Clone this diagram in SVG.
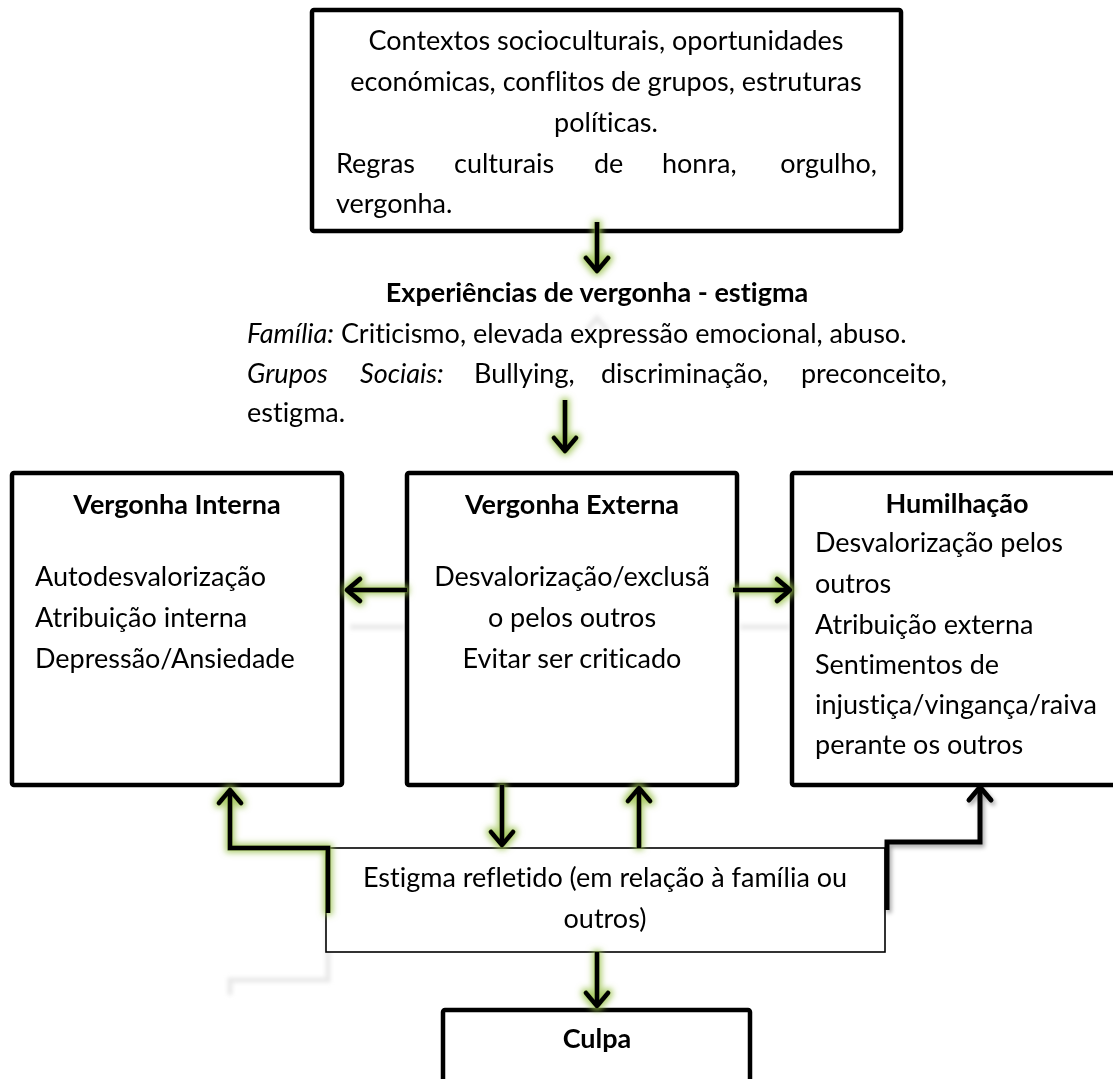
<svg xmlns="http://www.w3.org/2000/svg" width="1113" height="1079" viewBox="0 0 1113 1079">
<style>
.box{fill:#fff;stroke:#000;stroke-width:4.5;stroke-linejoin:round}
.thin{fill:#fff;stroke:#000;stroke-width:1.6}
.t{font-family:Lato,"Open Sans",sans-serif;font-size:27px;fill:#000;font-variant-ligatures:none}
.b{font-weight:bold}
.i{font-style:italic}
.m{text-anchor:middle}
.e{text-anchor:end}
.conn path{fill:none;stroke:#000;stroke-width:5;stroke-linejoin:miter}
.refl{fill:none;stroke:#d6d6d6;stroke-width:5;opacity:0.55}
</style>
<defs>
<marker id="ah" markerUnits="userSpaceOnUse" viewBox="-20 -16 24 32" markerWidth="24" markerHeight="32" refX="0" refY="0" orient="auto">
<path d="M-13,-11 L0,0 L-13,11" fill="none" stroke="#000" stroke-width="5" stroke-linejoin="round" stroke-linecap="round"/>
</marker>
<filter id="glow" filterUnits="userSpaceOnUse" x="0" y="0" width="1113" height="1079">
<feMorphology in="SourceAlpha" operator="dilate" radius="2" result="d"/>
<feGaussianBlur in="d" stdDeviation="3" result="bl"/>
<feFlood flood-color="#9cc34f" flood-opacity="0.85"/>
<feComposite in2="bl" operator="in" result="g"/>
<feMerge><feMergeNode in="g"/><feMergeNode in="SourceGraphic"/></feMerge>
</filter>
<filter id="shadow" filterUnits="userSpaceOnUse" x="0" y="0" width="1113" height="1079">
<feGaussianBlur in="SourceAlpha" stdDeviation="2" result="bl"/>
<feOffset in="bl" dx="2" dy="3" result="o"/>
<feFlood flood-color="#000" flood-opacity="0.35"/>
<feComposite in2="o" operator="in" result="s"/>
<feMerge><feMergeNode in="s"/><feMergeNode in="SourceGraphic"/></feMerge>
</filter>
<filter id="soft" filterUnits="userSpaceOnUse" x="0" y="0" width="1113" height="1079">
<feGaussianBlur stdDeviation="2"/>
</filter>
</defs>

<g id="reflections" filter="url(#soft)">
<path class="refl" d="M328,917 V980 H230 V995"/>
<path class="refl" d="M490,915 L502,900 L514,915"/>
<path class="refl" d="M585,1075 L597,1060 L609,1075"/>
<path class="refl" d="M639,852 V876"/>
<path class="refl" d="M587,330 L597,318 L607,330"/>
<path class="refl" d="M350,627 H405"/>
<path class="refl" d="M740,627 H790"/>
</g>

<g id="node-contextos">
<rect class="box" x="312" y="10" width="589" height="221" rx="2"/>
<text class="t m" x="606" y="50">Contextos socioculturais, oportunidades</text>
<text class="t m" x="606" y="91">económicas, conflitos de grupos, estruturas</text>
<text class="t m" x="606" y="132">políticas.</text>
<text class="t" y="173"><tspan x="336">Regras</tspan><tspan x="454">culturais</tspan><tspan x="594">de</tspan><tspan x="662">honra,</tspan></text>
<text class="t e" x="877" y="173">orgulho,</text>
<text class="t" x="336" y="213">vergonha.</text>
</g>

<g id="node-experiencias">
<text class="t b m" x="597" y="302">Experiências de vergonha - estigma</text>
<text class="t" x="247" y="343"><tspan class="i">Família:</tspan> Criticismo, elevada expressão emocional, abuso.</text>
<text class="t" y="383"><tspan class="i" x="247">Grupos</tspan><tspan class="i" x="360">Sociais:</tspan><tspan x="474">Bullying,</tspan><tspan x="601">discriminação,</tspan></text>
<text class="t e" x="947" y="383">preconceito,</text>
<text class="t" x="247" y="422">estigma.</text>
</g>

<g id="node-vergonha-interna">
<rect class="box" x="12" y="473" width="330" height="312" rx="2"/>
<text class="t b m" x="177" y="514">Vergonha Interna</text>
<text class="t" x="35" y="586">Autodesvalorização</text>
<text class="t" x="35" y="627">Atribuição interna</text>
<text class="t" x="35" y="668">Depressão/Ansiedade</text>
</g>

<g id="node-vergonha-externa">
<rect class="box" x="407" y="473" width="330" height="312" rx="2"/>
<text class="t b m" x="572" y="514">Vergonha Externa</text>
<text class="t m" x="572" y="586">Desvalorização/exclusã</text>
<text class="t m" x="572" y="627">o pelos outros</text>
<text class="t m" x="572" y="668">Evitar ser criticado</text>
</g>

<g id="node-humilhacao">
<rect class="box" x="792" y="473" width="330" height="312" rx="2"/>
<text class="t b m" x="957" y="513">Humilhação</text>
<text class="t" x="815" y="552">Desvalorização pelos</text>
<text class="t" x="815" y="593">outros</text>
<text class="t" x="815" y="634">Atribuição externa</text>
<text class="t" x="815" y="674">Sentimentos de</text>
<text class="t" x="815" y="714">injustiça/vingança/raiva</text>
<text class="t" x="815" y="754">perante os outros</text>
</g>

<g id="node-estigma-refletido">
<rect class="thin" x="326" y="848" width="559" height="104"/>
<text class="t m" x="605" y="887">Estigma refletido (em relação à família ou</text>
<text class="t m" x="605" y="928">outros)</text>
</g>

<g id="node-culpa">
<rect class="box" x="443" y="1010" width="307" height="100" rx="2"/>
<text class="t b m" x="597" y="1048">Culpa</text>
</g>

<g id="connectors">
<g class="conn" filter="url(#glow)">
<path d="M597,222 V271" marker-end="url(#ah)"/>
<path d="M565,400 V451" marker-end="url(#ah)"/>
<path d="M407,590 H347" marker-end="url(#ah)"/>
<path d="M733,590 H790" marker-end="url(#ah)"/>
<path d="M502,785 V845" marker-end="url(#ah)"/>
<path d="M639,848 V788" marker-end="url(#ah)"/>
<path d="M328,913 V848 H230 V790" marker-end="url(#ah)"/>
<path d="M597,952 V1006" marker-end="url(#ah)"/>
</g>
<g class="conn" filter="url(#shadow)">
<path d="M887,910 V842 H980 V787" marker-end="url(#ah)"/>
</g>
</g>
</svg>
